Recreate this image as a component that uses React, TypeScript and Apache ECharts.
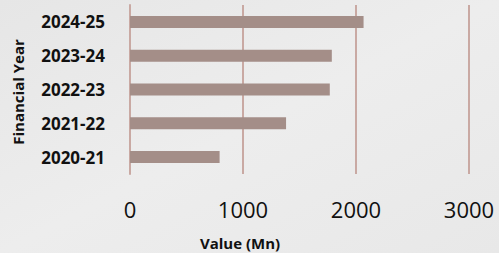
import React, { useEffect, useRef } from "react";
import * as echarts from "echarts";

const categories = ["2020-21", "2021-22", "2022-23", "2023-24", "2024-25"];
const values = [793, 1381, 1768, 1786, 2067];
const xTicks = [0, 1000, 2000, 3000];

export default function App() {
  const ref = useRef<HTMLDivElement>(null);
  useEffect(() => {
    document.body.style.margin = "0";
    const chart = echarts.init(ref.current!, undefined, { renderer: "svg" });
    const font = "'Open Sans', sans-serif";
    chart.setOption({
      animation: false,
      backgroundColor: {
        type: "linear",
        x: 0,
        y: 0,
        x2: 1,
        y2: 1,
        colorStops: [
          { offset: 0, color: "#e6e6e6" },
          { offset: 0.5, color: "#ededed" },
          { offset: 1, color: "#e8e8e8" },
        ],
      },
      grid: { left: 130, right: 30, top: 5, bottom: 79, containLabel: false },
      xAxis: {
        type: "value",
        min: xTicks[0],
        max: xTicks[xTicks.length - 1],
        interval: 1000,
        axisLine: { show: false },
        axisTick: { show: false },
        splitLine: { show: true, lineStyle: { color: "#c9a9a3", width: 2 } },
        axisLabel: {
          fontFamily: font,
          fontSize: 22,
          color: "#111",
          margin: 24,
          formatter: (v: number) => String(v),
        },
      },
      yAxis: {
        type: "category",
        data: categories,
        axisLine: { show: true, lineStyle: { color: "#c9a9a3", width: 2 } },
        axisTick: { show: false },
        axisLabel: {
          fontFamily: font,
          fontSize: 17,
          fontWeight: "bold",
          color: "#111",
          margin: 25,
        },
      },
      series: [
        {
          type: "bar",
          data: values,
          barWidth: 12,
          itemStyle: { color: "#a48e88" },
        },
      ],
      graphic: [
        {
          type: "text",
          x: 18,
          y: 92,
          rotation: Math.PI / 2,
          style: {
            text: "Financial Year",
            fontFamily: font,
            fontSize: 15,
            fontWeight: "bold",
            fill: "#111",
            align: "center",
            verticalAlign: "middle",
          },
        },
        {
          type: "text",
          x: 240,
          y: 243,
          style: {
            text: "Value (Mn)",
            fontFamily: font,
            fontSize: 15,
            fontWeight: "bold",
            fill: "#111",
            align: "center",
            verticalAlign: "middle",
          },
        },
      ],
    });
    return () => chart.dispose();
  }, []);
  return (
    <div
      ref={ref}
      style={{ position: "absolute", left: 0, top: 0, width: 499, height: 253 }}
    />
  );
}
